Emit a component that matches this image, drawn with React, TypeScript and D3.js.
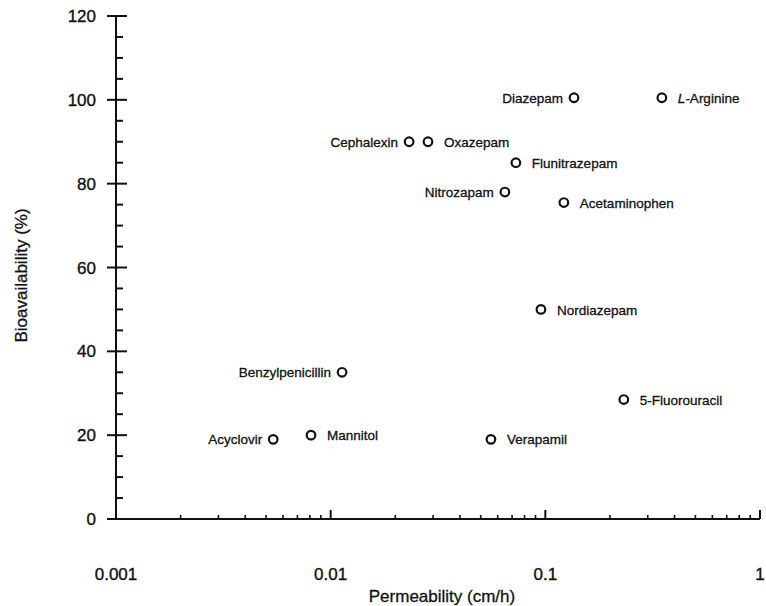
import * as d3 from "d3";
import { useEffect, useRef } from "react";

const drugs = [
  "Acyclovir", "Mannitol", "Benzylpenicillin", "Cephalexin", "Oxazepam",
  "Nitrozapam", "Flunitrazepam", "Verapamil", "Nordiazepam", "Acetaminophen",
  "Diazepam", "5-Fluorouracil", "L-Arginine",
];
const permeability = [
  0.0054, 0.0081, 0.0113, 0.0232, 0.0284,
  0.0648, 0.0729, 0.0558, 0.0954, 0.122,
  0.136, 0.232, 0.349,
];
const bioavailability = [19, 20, 35, 90, 90, 78, 85, 19, 50, 75.5, 100.5, 28.5, 100.5];
// which side the label sits on
const labelSide = ["l", "r", "l", "l", "r", "l", "r", "r", "r", "r", "l", "r", "r"];

const yTicks = [0, 20, 40, 60, 80, 100, 120];
const xTickLabels = ["0.001", "0.01", "0.1", "1"];

const W = 766;
const H = 606;
const margin = { top: 16, right: 6, bottom: 87, left: 116 };

const App = () => {
  const ref = useRef<SVGSVGElement>(null);

  useEffect(() => {
    const svg = d3.select(ref.current);
    svg.selectAll("*").remove();

    const x = d3
      .scaleLog()
      .domain([0.001, 1])
      .range([margin.left, W - margin.right]);
    const y = d3
      .scaleLinear()
      .domain([0, 120])
      .range([H - margin.bottom, margin.top]);

    const font = "'Liberation Sans', Arial, Helvetica, sans-serif";
    const ink = "#111";
    const y0 = y(0);

    // axes lines
    svg.append("line")
      .attr("x1", x(0.001)).attr("x2", x(1))
      .attr("y1", y0).attr("y2", y0)
      .attr("stroke", ink).attr("stroke-width", 2);
    svg.append("line")
      .attr("x1", x(0.001)).attr("x2", x(0.001))
      .attr("y1", y(0)).attr("y2", y(120))
      .attr("stroke", ink).attr("stroke-width", 2);

    // y ticks: majors cross, minors inside
    const yMinor = d3.range(0, 121, 5).filter((d) => d % 20 !== 0);
    svg.selectAll(".ymin").data(yMinor).enter().append("line")
      .attr("x1", x(0.001)).attr("x2", x(0.001) + 7)
      .attr("y1", (d) => y(d)).attr("y2", (d) => y(d))
      .attr("stroke", ink).attr("stroke-width", 2);
    svg.selectAll(".ymaj").data(yTicks).enter().append("line")
      .attr("x1", x(0.001) - 9).attr("x2", x(0.001) + 11)
      .attr("y1", (d) => y(d)).attr("y2", (d) => y(d))
      .attr("stroke", ink).attr("stroke-width", 2);
    svg.selectAll(".ylab").data(yTicks).enter().append("text")
      .attr("x", x(0.001) - 20).attr("y", (d) => y(d))
      .attr("dy", "0.36em")
      .attr("text-anchor", "end")
      .attr("font-family", font).attr("font-size", 17)
      .attr("fill", ink).attr("stroke", ink).attr("stroke-width", 0.35)
      .text((d) => d);

    // x ticks (log)
    const xMinor: number[] = [];
    [0.001, 0.01, 0.1].forEach((dec) => {
      for (let k = 2; k <= 9; k++) xMinor.push(dec * k);
    });
    svg.selectAll(".xmin").data(xMinor).enter().append("line")
      .attr("x1", (d) => x(d)).attr("x2", (d) => x(d))
      .attr("y1", y0).attr("y2", y0 - 4)
      .attr("stroke", ink).attr("stroke-width", 1.6);
    svg.selectAll(".xmaj").data([0.01, 0.1, 1]).enter().append("line")
      .attr("x1", (d) => x(d)).attr("x2", (d) => x(d))
      .attr("y1", y0).attr("y2", y0 - 9)
      .attr("stroke", ink).attr("stroke-width", 2);
    svg.selectAll(".xlab").data(xTickLabels).enter().append("text")
      .attr("x", (d) => x(+d)).attr("y", y0 + 61)
      .attr("text-anchor", "middle")
      .attr("font-family", font).attr("font-size", 17)
      .attr("fill", ink).attr("stroke", ink).attr("stroke-width", 0.35)
      .text((d) => d);

    // axis titles
    svg.append("text")
      .attr("x", 442).attr("y", H - 4)
      .attr("text-anchor", "middle")
      .attr("font-family", font).attr("font-size", 17)
      .attr("fill", ink).attr("stroke", ink).attr("stroke-width", 0.3)
      .text("Permeability (cm/h)");
    svg.append("text")
      .attr("transform", `translate(27,${(y(0) + y(120)) / 2 + 8}) rotate(-90)`)
      .attr("text-anchor", "middle")
      .attr("font-family", font).attr("font-size", 17)
      .attr("fill", ink).attr("stroke", ink).attr("stroke-width", 0.3)
      .text("Bioavailability (%)");

    // points
    const pts = drugs.map((name, i) => ({
      name,
      p: permeability[i],
      b: bioavailability[i],
      side: labelSide[i],
    }));
    svg.selectAll(".pt").data(pts).enter().append("circle")
      .attr("cx", (d) => x(d.p)).attr("cy", (d) => y(d.b))
      .attr("r", 4.3)
      .attr("fill", "white").attr("stroke", ink).attr("stroke-width", 2.2);

    const lab = svg.selectAll(".lab").data(pts).enter().append("text")
      .attr("x", (d) => x(d.p) + (d.side === "l" ? -11 : 16))
      .attr("y", (d) => y(d.b))
      .attr("dy", "0.38em")
      .attr("text-anchor", (d) => (d.side === "l" ? "end" : "start"))
      .attr("font-family", font).attr("font-size", 13.5)
      .attr("fill", ink).attr("stroke", ink).attr("stroke-width", 0.3);
    lab.each(function (d) {
      const t = d3.select(this);
      if (d.name.startsWith("L-")) {
        t.append("tspan").attr("font-style", "italic").text("L");
        t.append("tspan").text(d.name.slice(1));
      } else {
        t.text(d.name);
      }
    });
  }, []);

  return (
    <svg
      ref={ref}
      width={W}
      height={H}
      style={{ position: "absolute", left: 0, top: 0, background: "white" }}
    />
  );
};

export default App;
